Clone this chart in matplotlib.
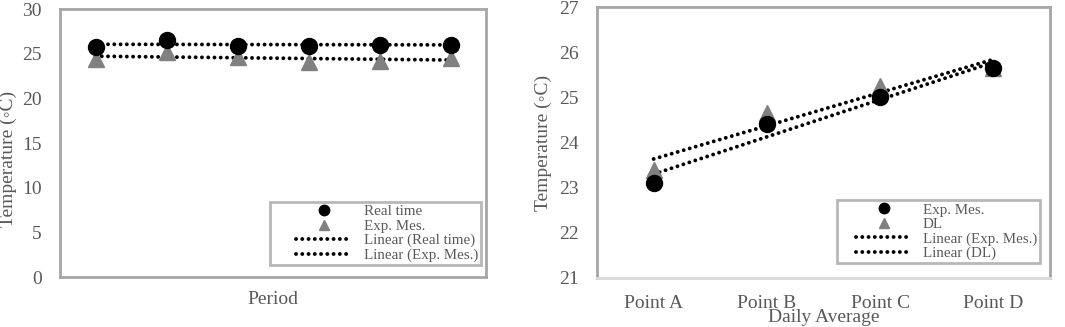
import numpy as np
import matplotlib
matplotlib.use("Agg")
import matplotlib.pyplot as plt
from matplotlib.lines import Line2D
from matplotlib.legend_handler import HandlerLine2D

plt.rcParams['font.family'] = ['Liberation Serif', 'DejaVu Serif']

# ---- data ----
periods = [1, 2, 3, 4, 5, 6]
real_time = [25.8, 26.5, 25.9, 25.9, 26.0, 26.0]
exp_mes_period = [24.4, 25.2, 24.6, 24.1, 24.2, 24.5]

points = ["Point A", "Point B", "Point C", "Point D"]
exp_mes_daily = [23.1, 24.4, 25.0, 25.65]
dl_daily = [23.4, 24.65, 25.25, 25.65]

TXT = "#595959"
FRAME = "#a6a6a6"
GRAY = "#808080"

fig = plt.figure(figsize=(10.65, 3.27), dpi=100)
W, H = 1065, 327
ax1 = fig.add_axes([60 / W, 1 - 277 / H, (486 - 60) / W, (277 - 9) / H])
ax2 = fig.add_axes([597 / W, 1 - 278 / H, (1050 - 597) / W, (278 - 7) / H])

dot_style = dict(color="black", linewidth=2.8, linestyle=(0, (0.01, 1.6)),
                 dash_capstyle="round")


class ShiftHandler(HandlerLine2D):
    """Line handler leaving an empty gap at the left of the handle box."""

    def __init__(self, shift, **kw):
        super().__init__(**kw)
        self.shift = shift

    def create_artists(self, legend, orig_handle, xdescent, ydescent, width,
                       height, fontsize, trans):
        return super().create_artists(legend, orig_handle, xdescent - self.shift,
                                      ydescent, width - self.shift, height,
                                      fontsize, trans)


def trend(x, y):
    x = np.asarray(x, float)
    k, b = np.polyfit(x, y, 1)
    return x, k * x + b


def style_axes(ax):
    for s in ax.spines.values():
        s.set_color(FRAME)
        s.set_linewidth(2)
    ax.tick_params(axis="both", length=0, colors=TXT, labelsize=14)
    ax.tick_params(axis="y", pad=13)


def make_legend(ax, labels, anchor, shift, hlen):
    handles = [Line2D([], [], linestyle="none", marker="o", color="black", markersize=7.5),
               Line2D([], [], linestyle="none", marker="^", color=GRAY, markersize=7.5),
               Line2D([], [], **dot_style),
               Line2D([], [], **dot_style)]
    hm = {h: ShiftHandler(shift) for h in handles}
    leg = ax.legend(handles, labels, loc="lower right", bbox_to_anchor=anchor,
                    borderaxespad=0, fontsize=10.8, frameon=True, fancybox=False,
                    handlelength=hlen, handletextpad=0.75, labelspacing=0.06,
                    borderpad=0.2, labelcolor=TXT, handler_map=hm)
    leg.get_frame().set_edgecolor(FRAME)
    leg.get_frame().set_linewidth(2)
    return leg


# ---- left panel ----
x1 = np.arange(len(periods))
tx, ty = trend(x1, real_time)
ax1.plot(tx, ty, **dot_style, zorder=2)
tx, ty = trend(x1, exp_mes_period)
ax1.plot(tx, ty, **dot_style, zorder=2)
ax1.plot(x1, exp_mes_period, linestyle="none", marker="^", markersize=11.5,
         color=GRAY, zorder=3)
ax1.plot(x1, real_time, linestyle="none", marker="o", markersize=11.5,
         color="black", zorder=4)
ax1.set_xlim(-0.5, len(periods) - 0.5)
ax1.set_ylim(0, 30)
ax1.set_yticks(np.arange(0, 31, 5))
ax1.set_xticks([])
ax1.set_xlabel("Period", color=TXT, fontsize=14, labelpad=10)
ax1.set_ylabel("Temperature (◦C)", color=TXT, fontsize=14)
ax1.yaxis.set_label_coords(-0.101, 0.44)
style_axes(ax1)
make_legend(ax1, ["Real time", "Exp. Mes.", "Linear (Real time)", "Linear (Exp. Mes.)"],
            (0.988, 0.045), shift=17, hlen=5.3)

# ---- right panel ----
x2 = np.arange(len(points))
tx, ty = trend(x2, exp_mes_daily)
ax2.plot(tx, ty, **dot_style, zorder=2)
tx, ty = trend(x2, dl_daily)
ax2.plot(tx, ty, **dot_style, zorder=2)
ax2.plot(x2, dl_daily, linestyle="none", marker="^", markersize=11.5,
         color=GRAY, zorder=3)
ax2.plot(x2, exp_mes_daily, linestyle="none", marker="o", markersize=11.5,
         color="black", zorder=4)
ax2.set_xlim(-0.5, len(points) - 0.5)
ax2.set_ylim(21, 27)
ax2.set_yticks(np.arange(21, 28, 1))
ax2.set_xticks(x2)
ax2.set_xticklabels(points)
ax2.set_xlabel("Daily Average", color=TXT, fontsize=14, labelpad=-2)
ax2.set_ylabel("Temperature (◦C)", color=TXT, fontsize=14)
ax2.yaxis.set_label_coords(-0.099, 0.5)
style_axes(ax2)
ax2.tick_params(axis="x", pad=12)
ax2.spines["bottom"].set_color("#d9d9d9")
make_legend(ax2, ["Exp. Mes.", "DL", "Linear (Exp. Mes.)", "Linear (DL)"],
            (0.978, 0.055), shift=12, hlen=4.8)

fig.savefig("out.png", dpi=100)
